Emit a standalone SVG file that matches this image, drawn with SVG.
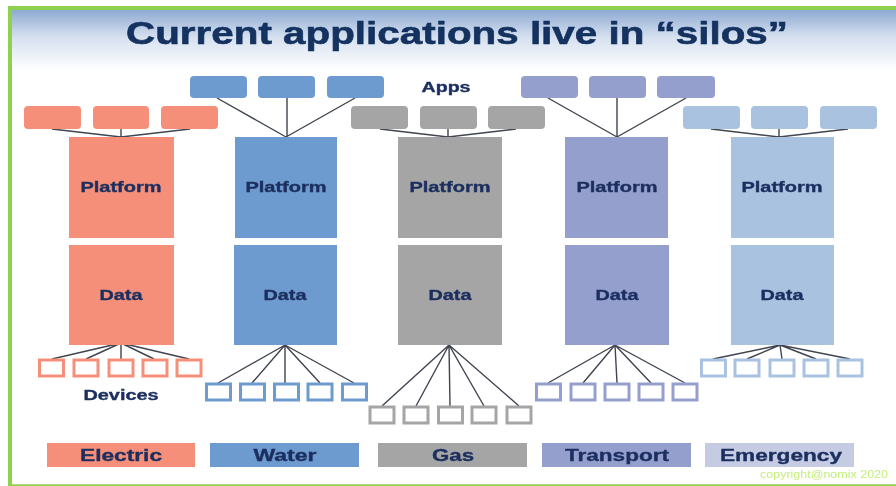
<svg xmlns="http://www.w3.org/2000/svg" width="896" height="486" viewBox="0 0 896 486">
<style>
text{font-family:"Liberation Sans",Arial,sans-serif;font-weight:700;fill:#1b2f5e;stroke:#1b2f5e;stroke-width:.35;text-anchor:middle}
.t{font-size:14px}
.l{font-size:16px}
.ln{fill:none;stroke:#3f4450;stroke-width:1.4}
.d{fill:#fff;stroke-width:3}
.e{fill:#f68f79}.w{fill:#6d9acf}.g{fill:#a5a5a5}.r{fill:#959fcd}.m{fill:#a8c2e0}
.es{stroke:#f68f79}.ws{stroke:#6d9acf}.gs{stroke:#a5a5a5}.rs{stroke:#959fcd}.ms{stroke:#a8c2e0}
</style>
<defs>
<linearGradient id="bg" x1="0" y1="0" x2="0" y2="1"><stop offset="0" stop-color="#8eaad2"/><stop offset="0.45" stop-color="#d5e0ef"/><stop offset="1" stop-color="#fff"/></linearGradient>
<filter id="soft" x="-2%" y="-2%" width="104%" height="104%"><feGaussianBlur stdDeviation="0.45"/></filter>
</defs>
<rect width="896" height="486" fill="#fff"/>
<g filter="url(#soft)">
<rect x="12" y="10" width="884" height="60" fill="url(#bg)"/>
<g id="frame"><path d="M10 486V8H896" fill="none" stroke="#8fd14f" stroke-width="4"/><path d="M8 485.500H896" stroke="#8fd14f" stroke-width="2.500"/></g>
<text id="title" x="457" y="44" font-size="32" textLength="662" lengthAdjust="spacingAndGlyphs" style="fill:#12305f;stroke:#12305f;stroke-width:.6">Current applications live in “silos”</text>
<text id="apps-label" x="446" y="92" class="t" textLength="49" lengthAdjust="spacingAndGlyphs">Apps</text>
<text id="devices-label" x="121" y="400" class="t" textLength="75" lengthAdjust="spacingAndGlyphs">Devices</text>
<g id="connectors" class="ln">
<path d="M52 129L121 137M121 129V137M190 129L121 137"/>
<path d="M217 98L286 137M287 98V137M355 98L286 137"/>
<path d="M380 129L448 137M448 129V137M516 129L448 137"/>
<path d="M548 98L617 137M617 98V137M686 98L617 137"/>
<path d="M711 129L779 137M779 129V137M848 129L779 137"/>
<path d="M121 343L52 359M121 343L86 359M121 343V359M121 343L154 359M121 343L189 359"/>
<path d="M285 345L218 383M285 345L252 383M285 345V383M285 345L320 383M285 345L354 383"/>
<path d="M449 345L382 406M449 345L416 406M449 345L450 406M449 345L484 406M449 345L519 406"/>
<path d="M615 345L548 383M615 345L583 383M615 345L617 383M615 345L651 383M615 345L685 383"/>
<path d="M780 345L713 359M780 345L747 359M780 345L782 359M780 345L816 359M780 345L850 359"/>
</g>
<g id="electric">
<rect class="e" x="24" y="106" width="57" height="23" rx="4"/><rect class="e" x="93" y="106" width="56" height="23" rx="4"/><rect class="e" x="161" y="106" width="57" height="23" rx="4"/>
<rect class="e" x="69" y="137" width="105" height="101"/><rect class="e" x="69" y="245" width="105" height="100"/>
<g class="d es"><rect x="39.500" y="360" width="24" height="16"/><rect x="74" y="360" width="24" height="16"/><rect x="109" y="360" width="24" height="16"/><rect x="143" y="360" width="24" height="16"/><rect x="177" y="360" width="24" height="16"/></g>
<text x="121" y="192" class="t" textLength="81" lengthAdjust="spacingAndGlyphs">Platform</text><text x="121" y="300" class="t" textLength="43" lengthAdjust="spacingAndGlyphs">Data</text>
</g>
<g id="water">
<rect class="w" x="190" y="76" width="57" height="22" rx="4"/><rect class="w" x="258" y="76" width="57" height="22" rx="4"/><rect class="w" x="327" y="76" width="57" height="22" rx="4"/>
<rect class="w" x="235" y="137" width="102" height="101"/><rect class="w" x="234" y="245" width="103" height="100"/>
<g class="d ws"><rect x="206.500" y="384" width="24" height="16"/><rect x="240.500" y="384" width="24" height="16"/><rect x="274.500" y="384" width="24" height="16"/><rect x="308" y="384" width="24" height="16"/><rect x="342.500" y="384" width="24" height="16"/></g>
<text x="286" y="192" class="t" textLength="81" lengthAdjust="spacingAndGlyphs">Platform</text><text x="285" y="300" class="t" textLength="43" lengthAdjust="spacingAndGlyphs">Data</text>
</g>
<g id="gas">
<rect class="g" x="351" y="106" width="57" height="23" rx="4"/><rect class="g" x="420" y="106" width="57" height="23" rx="4"/><rect class="g" x="488" y="106" width="57" height="23" rx="4"/>
<rect class="g" x="398" y="137" width="104" height="101"/><rect class="g" x="398" y="245" width="104" height="100"/>
<g class="d gs"><rect x="370" y="407" width="24" height="16"/><rect x="404" y="407" width="24" height="16"/><rect x="438.500" y="407" width="24" height="16"/><rect x="472" y="407" width="24" height="16"/><rect x="507" y="407" width="24" height="16"/></g>
<text x="450" y="192" class="t" textLength="81" lengthAdjust="spacingAndGlyphs">Platform</text><text x="450" y="300" class="t" textLength="43" lengthAdjust="spacingAndGlyphs">Data</text>
</g>
<g id="transport">
<rect class="r" x="521" y="76" width="57" height="22" rx="4"/><rect class="r" x="589" y="76" width="57" height="22" rx="4"/><rect class="r" x="657" y="76" width="58" height="22" rx="4"/>
<rect class="r" x="565" y="137" width="103" height="101"/><rect class="r" x="565" y="245" width="104" height="100"/>
<g class="d rs"><rect x="536.500" y="384" width="24" height="16"/><rect x="571" y="384" width="24" height="16"/><rect x="605" y="384" width="24" height="16"/><rect x="639" y="384" width="24" height="16"/><rect x="673" y="384" width="24" height="16"/></g>
<text x="617" y="192" class="t" textLength="81" lengthAdjust="spacingAndGlyphs">Platform</text><text x="617" y="300" class="t" textLength="43" lengthAdjust="spacingAndGlyphs">Data</text>
</g>
<g id="emergency">
<rect class="m" x="683" y="106" width="57" height="23" rx="4"/><rect class="m" x="751" y="106" width="57" height="23" rx="4"/><rect class="m" x="820" y="106" width="57" height="23" rx="4"/>
<rect class="m" x="731" y="137" width="103" height="101"/><rect class="m" x="731" y="245" width="103" height="100"/>
<g class="d ms"><rect x="701.500" y="360" width="24" height="16"/><rect x="735" y="360" width="24" height="16"/><rect x="770" y="360" width="24" height="16"/><rect x="804" y="360" width="24" height="16"/><rect x="838" y="360" width="24" height="16"/></g>
<text x="782" y="192" class="t" textLength="81" lengthAdjust="spacingAndGlyphs">Platform</text><text x="782" y="300" class="t" textLength="43" lengthAdjust="spacingAndGlyphs">Data</text>
</g>
<g id="legend">
<rect class="e" x="47" y="443" width="148" height="24"/><text x="121" y="461" class="l" textLength="82" lengthAdjust="spacingAndGlyphs">Electric</text>
<rect class="w" x="210" y="443" width="149" height="24"/><text x="285" y="461" class="l" textLength="63" lengthAdjust="spacingAndGlyphs">Water</text>
<rect class="g" x="378" y="443" width="149" height="24"/><text x="453" y="461" class="l" textLength="42" lengthAdjust="spacingAndGlyphs">Gas</text>
<rect class="r" x="542" y="443" width="149" height="24"/><text x="617" y="461" class="l" textLength="104" lengthAdjust="spacingAndGlyphs">Transport</text>
<rect x="705" y="443" width="149" height="24" fill="#c5cbe3"/><text x="781" y="461" class="l" textLength="122" lengthAdjust="spacingAndGlyphs">Emergency</text>
</g>
<text id="copyright" x="824" y="478" font-size="11" textLength="128" lengthAdjust="spacingAndGlyphs" style="fill:#c6ee7c;stroke:none;font-weight:400">copyright@nomix 2020</text>
</g>
</svg>
